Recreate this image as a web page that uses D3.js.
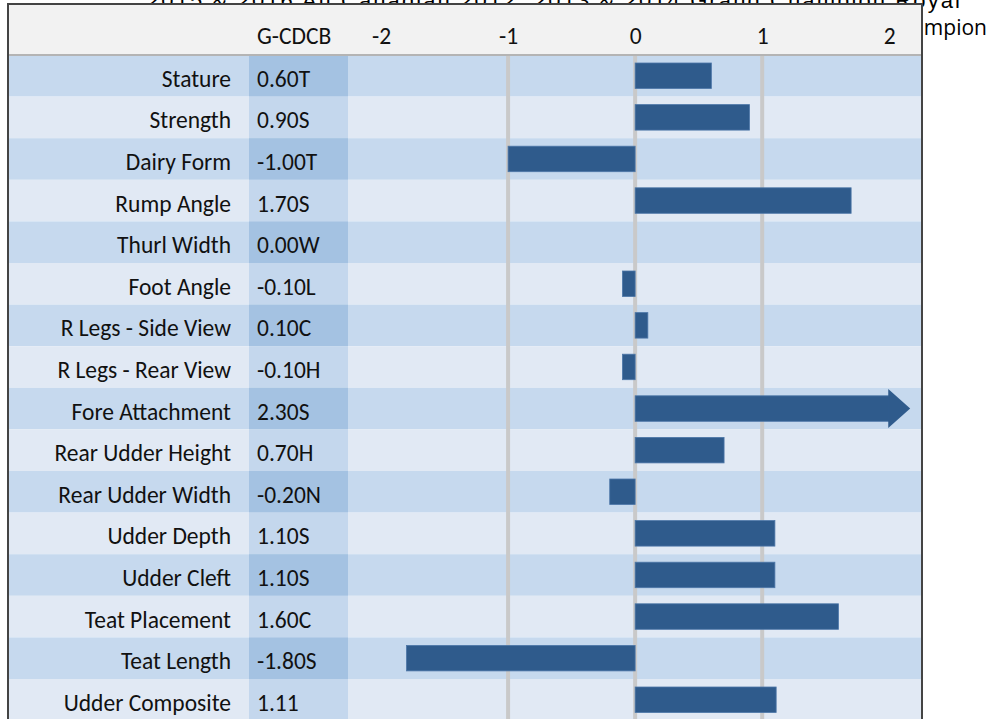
<!DOCTYPE html>
<html>
<head>
<meta charset="utf-8">
<script src="https://cdn.jsdelivr.net/npm/d3@7"></script>
<style>
  body { margin: 0; background: #fff; }
</style>
</head>
<body>
<div id="chart"></div>
<script>
// data
const traits = ['Stature', 'Strength', 'Dairy Form', 'Rump Angle', 'Thurl Width', 'Foot Angle',
  'R Legs - Side View', 'R Legs - Rear View', 'Fore Attachment', 'Rear Udder Height',
  'Rear Udder Width', 'Udder Depth', 'Udder Cleft', 'Teat Placement', 'Teat Length', 'Udder Composite'];
const values = [0.6, 0.9, -1.0, 1.7, 0.0, -0.1, 0.1, -0.1, 2.3, 0.7, -0.2, 1.1, 1.1, 1.6, -1.8, 1.11];
const gcdcb = ['0.60T', '0.90S', '-1.00T', '1.70S', '0.00W', '-0.10L', '0.10C', '-0.10H',
  '2.30S', '0.70H', '-0.20N', '1.10S', '1.10S', '1.60C', '-1.80S', '1.11'];
const ticks = [-2, -1, 0, 1, 2];
const gridTicks = [-1, 0, 1];
const titleLines = ['2015 & 2016 All Canadian 2012, 2013 & 2014 Grand Champion Royal', 'Champion'];

const W = 988, H = 719;
const font = "Carlito, 'Open Sans', sans-serif";
const fs = 23.5;

const svg = d3.select('#chart').append('svg').attr('width', W).attr('height', H);

// text sitting behind the table
svg.append('text').attr('x', 147).attr('y', 8)
   .attr('font-family', "'Liberation Sans', Arial, sans-serif").attr('font-size', 22)
   .attr('textLength', 813).text(titleLines[0]);
svg.append('text').attr('x', 987).attr('y', 35).attr('text-anchor', 'end')
   .attr('font-family', "'Open Sans', sans-serif").attr('font-size', 21)
   .attr('textLength', 101).text(titleLines[1]);

const boxL = 8, boxR = 921, boxT = 4, headH = 51;
const rowH = 41.6;

const sx = d3.scaleLinear().domain([-2.26, 2.25]).range([348, boxR]);
const sy = d3.scaleBand().domain(traits).range([boxT + headH, boxT + headH + rowH * traits.length]);

const rows = traits.map((t, i) => ({t, v: values[i], g: gcdcb[i], i}));

const g = svg.append('g');

// header
g.append('rect').attr('x', boxL).attr('y', boxT).attr('width', boxR - boxL).attr('height', headH)
 .attr('fill', '#f2f2f2');

// row stripes
g.selectAll('rect.row').data(rows).enter().append('rect').classed('row', true)
 .attr('x', boxL).attr('y', d => sy(d.t)).attr('width', boxR - boxL).attr('height', sy.bandwidth())
 .attr('fill', d => d.i % 2 ? '#e1e9f4' : '#c6d9ee');

g.selectAll('rect.gcol').data(rows).enter().append('rect').classed('gcol', true)
 .attr('x', 249).attr('y', d => sy(d.t)).attr('width', 99).attr('height', sy.bandwidth())
 .attr('fill', d => d.i % 2 ? '#c4d7ed' : '#a4c2e2');

g.append('line').attr('x1', boxL).attr('x2', boxR).attr('y1', boxT + headH).attr('y2', boxT + headH)
 .attr('stroke', '#b4b4b4').attr('stroke-width', 2);

// grid
g.selectAll('line.grid').data(gridTicks).enter().append('line').classed('grid', true)
 .attr('x1', d => sx(d)).attr('x2', d => sx(d))
 .attr('y1', boxT + headH + 1).attr('y2', H)
 .attr('stroke', '#c9c9c9').attr('stroke-width', 4);

// bars, with arrow when off the scale
const cap = 2;
const barOff = 8, barH = 25.5;
g.selectAll('rect.bar').data(rows).enter().append('rect').classed('bar', true)
 .attr('x', d => sx(Math.min(0, d.v)))
 .attr('y', d => sy(d.t) + barOff)
 .attr('width', d => Math.abs(sx(Math.min(d.v, cap)) - sx(0)))
 .attr('height', barH)
 .attr('fill', '#2f5b8c').attr('stroke', '#4d77a8').attr('stroke-width', 0.8);

g.selectAll('path.arrow').data(rows.filter(d => d.v > cap)).enter().append('path').classed('arrow', true)
 .attr('d', d => {
   const yc = sy(d.t) + barOff + barH / 2;
   const x0 = sx(cap) - 1, x1 = sx(cap + 0.165);
   return `M${x0},${yc - 19.5} L${x1},${yc} L${x0},${yc + 19.5} Z`;
 })
 .attr('fill', '#2f5b8c');

// labels
g.selectAll('text.lab').data(rows).enter().append('text').classed('lab', true)
 .attr('x', 231).attr('y', d => sy(d.t) + rowH / 2 + 11)
 .attr('text-anchor', 'end').attr('font-family', font).attr('font-size', fs).attr('fill', '#111')
 .text(d => d.t);

g.selectAll('text.val').data(rows).enter().append('text').classed('val', true)
 .attr('x', 257).attr('y', d => sy(d.t) + rowH / 2 + 11)
 .attr('font-family', font).attr('font-size', fs).attr('fill', '#111')
 .text(d => d.g);

g.append('text').attr('x', 257).attr('y', 44)
 .attr('font-family', font).attr('font-size', fs).attr('fill', '#111').text('G-CDCB');

// axis along the header
const axis = g.append('g').attr('transform', 'translate(0,44)')
  .call(d3.axisTop(sx).tickValues(ticks).tickSize(0).tickPadding(0).tickFormat(d => String(d)));
axis.select('.domain').remove();
axis.selectAll('text').attr('font-family', font).attr('font-size', fs).attr('fill', '#111')
    .attr('dy', 0);

// frame
g.append('rect').attr('x', boxL).attr('y', boxT).attr('width', boxR - boxL + 1).attr('height', H + 10)
 .attr('fill', 'none').attr('stroke', '#444').attr('stroke-width', 2);
</script>
</body>
</html>
